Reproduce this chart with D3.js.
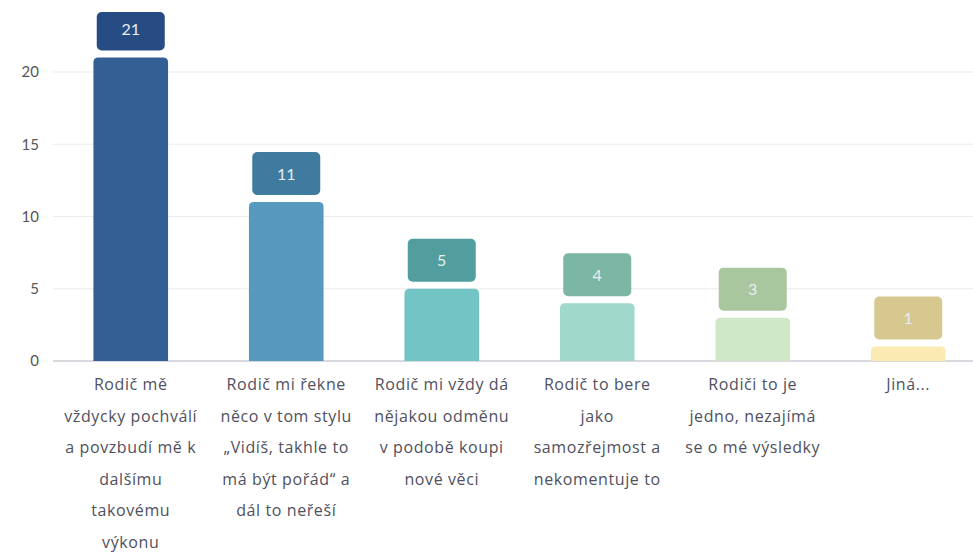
<!DOCTYPE html>
<html>
<head>
<meta charset="utf-8">
<script src="https://cdn.jsdelivr.net/npm/d3@7"></script>
<style>
  body { margin: 0; background: #fff; }
  svg { display: block; font-family: "Open Sans", Lato, sans-serif; }
</style>
</head>
<body>
<script>
var width = 973,
    height = 555;

// data
var categories = [
  ['Rodič mě', 'vždycky pochválí', 'a povzbudí mě k', 'dalšímu', 'takovému', 'výkonu'],
  ['Rodič mi řekne', 'něco v tom stylu', '„Vidíš, takhle to', 'má být pořád“ a', 'dál to neřeší'],
  ['Rodič mi vždy dá', 'nějakou odměnu', 'v podobě koupi', 'nové věci'],
  ['Rodič to bere', 'jako', 'samozřejmost a', 'nekomentuje to'],
  ['Rodiči to je', 'jedno, nezajímá', 'se o mé výsledky'],
  ['Jiná...']
];
var values = [21, 11, 5, 4, 3, 1];
var yTicks = [0, 5, 10, 15, 20];
var barColors = ['#335f94', '#5799be', '#73c4c5', '#a0d9cb', '#cfe9c8', '#fbebb2'];
var boxColors = ['#264c83', '#3f7b9f', '#529e9f', '#7cb6a5', '#a8c79e', '#d6c88f'];

var svg = d3.select('body').append('svg')
    .attr('width', width)
    .attr('height', height);

var x = d3.scaleBand()
    .domain(d3.range(values.length))
    .range([53, 986])
    .paddingInner(0.52)
    .paddingOuter(0.26);

var y = d3.scaleLinear()
    .domain([0, 20])
    .range([361, 72]);

// gridlines
svg.append('g')
  .selectAll('line')
    .data(yTicks)
    .enter().append('line')
    .attr('x1', 53).attr('x2', width)
    .attr('y1', function(d) { return y(d); })
    .attr('y2', function(d) { return y(d); })
    .style('stroke', function(d) { return d === 0 ? '#d8d8de' : '#ebebeb'; })
    .style('stroke-width', function(d) { return d === 0 ? 2 : 1; });

// y axis labels
var yAxis = svg.append('g')
    .attr('transform', 'translate(39,0)')
    .call(d3.axisLeft(y).tickValues(yTicks).tickSize(0).tickPadding(0));
yAxis.select('.domain').remove();
yAxis.selectAll('text')
    .style('font-size', '15px')
    .style('fill', '#555')
    .style('font-family', 'Lato, sans-serif');

// bars with rounded tops
function topRounded(x0, y0, w, h, r) {
  r = Math.min(r, h);
  return 'M' + x0 + ',' + (y0 + h) +
    'V' + (y0 + r) +
    'Q' + x0 + ',' + y0 + ' ' + (x0 + r) + ',' + y0 +
    'H' + (x0 + w - r) +
    'Q' + (x0 + w) + ',' + y0 + ' ' + (x0 + w) + ',' + (y0 + r) +
    'V' + (y0 + h) + 'Z';
}

var bars = svg.append('g')
  .selectAll('g')
    .data(values)
    .enter().append('g');

bars.append('path')
    .attr('d', function(d, i) {
      return topRounded(x(i), y(d), x.bandwidth(), y(0) - y(d), 5);
    })
    .attr('fill', function(d, i) { return barColors[i]; });

// value boxes above bars
var boxW = 68, boxH = 43, gap = 7;
bars.append('rect')
    .attr('x', function(d, i) { return x(i) + (x.bandwidth() - boxW) / 2; })
    .attr('y', function(d) { return Math.max(12, y(d) - gap - boxH); })
    .attr('width', boxW)
    .attr('height', function(d) { return y(d) - gap - Math.max(12, y(d) - gap - boxH); })
    .attr('rx', 5)
    .attr('fill', function(d, i) { return boxColors[i]; });

bars.append('text')
    .attr('x', function(d, i) { return x(i) + x.bandwidth() / 2; })
    .attr('y', function(d) { return y(d) - gap - boxH / 2 + 6; })
    .attr('text-anchor', 'middle')
    .style('font-size', '16px')
    .style('font-family', 'Lato, sans-serif')
    .style('fill', '#e8eef2')
    .text(function(d) { return d; });

// category labels
var labels = svg.append('g')
  .selectAll('text')
    .data(categories)
    .enter().append('text')
    .attr('text-anchor', 'middle')
    .style('font-size', '16px')
    .style('letter-spacing', '0.6px')
    .style('fill', '#505060');

labels.selectAll('tspan')
    .data(function(d, i) { return d.map(function(t) { return {t: t, i: i}; }); })
    .enter().append('tspan')
    .attr('x', function(d) { return x(d.i) + x.bandwidth() / 2; })
    .attr('y', function(d, j) { return 390 + j * 31.6; })
    .text(function(d) { return d.t; });
</script>
</body>
</html>
